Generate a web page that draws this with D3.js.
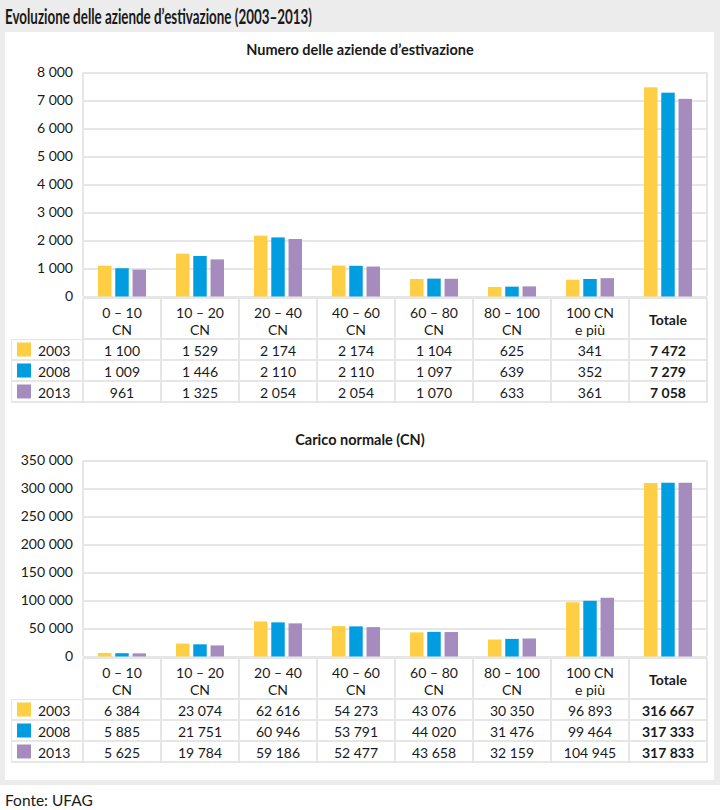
<!DOCTYPE html>
<html>
<head>
<meta charset="utf-8">
<script src="https://cdn.jsdelivr.net/npm/d3@7"></script>
<style>
  body { margin: 0; background: #fff; }
  svg { display: block; font-family: Lato, 'Open Sans', sans-serif; }
</style>
</head>
<body>
<svg id="chart" width="720" height="810"></svg>
<script>
const years = ['2003', '2008', '2013'];
const colors = ['#fecf44', '#009ee0', '#a68bbf'];

const classLine1 = ['0 – 10', '10 – 20', '20 – 40', '40 – 60', '60 – 80', '80 – 100', '100 CN', 'Totale'];
const classLine2 = ['CN', 'CN', 'CN', 'CN', 'CN', 'CN', 'e più', ''];

// Numero delle aziende: bar heights as drawn
const aziende2003 = [1100, 1529, 2174, 1104, 625, 341, 599, 7472];
const aziende2008 = [1009, 1446, 2110, 1097, 639, 352, 626, 7279];
const aziende2013 = [961, 1325, 2054, 1070, 633, 361, 654, 7058];
// Numero delle aziende: table as printed
const tabAziende2003 = [1100, 1529, 2174, 2174, 1104, 625, 341, 7472];
const tabAziende2008 = [1009, 1446, 2110, 2110, 1097, 639, 352, 7279];
const tabAziende2013 = [961, 1325, 2054, 2054, 1070, 633, 361, 7058];
const aziendeTicks = [0, 1000, 2000, 3000, 4000, 5000, 6000, 7000, 8000];

// Carico normale (CN): bar heights as drawn
const carico2003 = [6384, 23074, 62616, 54273, 43076, 30350, 96893, 309700];
const carico2008 = [5885, 21751, 60946, 53791, 44020, 31476, 99464, 310300];
const carico2013 = [5625, 19784, 59186, 52477, 43658, 32159, 104945, 310300];
// Carico normale (CN): table as printed
const tabCarico2003 = [6384, 23074, 62616, 54273, 43076, 30350, 96893, 316667];
const tabCarico2008 = [5885, 21751, 60946, 53791, 44020, 31476, 99464, 317333];
const tabCarico2013 = [5625, 19784, 59186, 52477, 43658, 32159, 104945, 317833];
const caricoTicks = [0, 50000, 100000, 150000, 200000, 250000, 300000, 350000];

const fmt = d3.formatLocale({decimal: ',', thousands: ' ', grouping: [3], currency: ['', '']}).format(',d');

const svg = d3.select('#chart');
const plotLeft = 83;
const plotRight = 707;
const gridColor = '#e6e6e6';

// Background and card
svg.append('rect').attr('width', 720).attr('height', 785).attr('fill', '#ececec');
svg.append('rect').attr('x', 5).attr('y', 32).attr('width', 709).attr('height', 748).attr('fill', '#fff');

svg.append('text')
  .attr('x', 5).attr('y', 24)
  .attr('font-size', 20.5).attr('font-weight', 700)
  .attr('fill', '#1a1a1a')
  .attr('textLength', 307).attr('lengthAdjust', 'spacingAndGlyphs')
  .text('Evoluzione delle aziende d’estivazione (2003–2013)');

svg.append('text')
  .attr('x', 5).attr('y', 806)
  .attr('font-size', 15.5).attr('fill', '#1a1a1a')
  .text('Fonte: UFAG');

const x = d3.scaleBand()
  .domain(classLine1)
  .range([plotLeft, plotRight]);

const x1 = d3.scaleBand()
  .domain(years)
  .range([15, 63])
  .paddingInner(0.22);

function drawPanel(opt) {
  const g = svg.append('g');

  g.append('text')
    .attr('x', 360).attr('y', opt.titleY)
    .attr('text-anchor', 'middle')
    .attr('dominant-baseline', 'central')
    .attr('font-size', 14.5).attr('font-weight', 700)
    .attr('fill', '#1a1a1a')
    .text(opt.title);

  const y = d3.scaleLinear()
    .domain([0, d3.max(opt.ticks)])
    .range([opt.bottom, opt.top]);

  const yAxis = d3.axisLeft(y)
    .tickValues(opt.ticks)
    .tickFormat(fmt)
    .tickSize(-(plotRight - plotLeft))
    .tickPadding(10);

  const axis = g.append('g')
    .attr('transform', `translate(${plotLeft}, 0)`)
    .call(yAxis);
  axis.select('.domain').remove();
  axis.selectAll('line').attr('stroke', gridColor).attr('stroke-width', 2);
  axis.selectAll('text')
    .attr('font-size', 14).attr('fill', '#1a1a1a')
    .style('font-family', 'Lato, sans-serif');

  // plot frame sides
  [plotLeft, plotRight].forEach(px => {
    g.append('line')
      .attr('x1', px).attr('x2', px)
      .attr('y1', opt.top).attr('y2', opt.bottom)
      .attr('stroke', gridColor).attr('stroke-width', 2);
  });

  // bars
  opt.series.forEach((values, s) => {
    g.selectAll(`.bar-${s}`)
        .data(values)
      .enter().append('rect')
        .attr('class', `bar-${s}`)
        .attr('x', (d, i) => x(classLine1[i]) + x1(years[s]))
        .attr('width', x1.bandwidth())
        .attr('y', d => y(d))
        .attr('height', d => y(0) - y(d))
        .attr('fill', colors[s]);
  });

  // table
  const tTop = opt.bottom + 1.5;
  const headH = 40;
  const rowH = 21;
  const rowsTop = tTop + headH + 1;
  const tEnd = rowsTop + rowH * 3 + 1;

  g.append('rect')
    .attr('x', plotLeft - 1).attr('y', tTop)
    .attr('width', plotRight - plotLeft + 2).attr('height', headH + 2)
    .attr('fill', gridColor);
  g.append('rect')
    .attr('x', 11).attr('y', rowsTop)
    .attr('width', plotRight - 11 + 1).attr('height', tEnd - rowsTop)
    .attr('fill', gridColor);

  // header cells
  const head = g.selectAll('.head')
      .data(classLine1)
    .enter().append('g')
      .attr('class', 'head')
      .attr('transform', d => `translate(${x(d)}, ${tTop})`);

  head.append('rect')
    .attr('x', 1).attr('y', 1)
    .attr('width', x.bandwidth() - 2).attr('height', headH - 1)
    .attr('fill', '#fff');

  head.append('text')
    .attr('x', x.bandwidth() / 2)
    .attr('y', (d, i) => classLine2[i] ? 14.5 : 21)
    .attr('text-anchor', 'middle')
    .attr('dominant-baseline', 'central')
    .attr('font-size', 14)
    .attr('font-weight', (d, i) => classLine2[i] ? 400 : 700)
    .attr('fill', '#1a1a1a')
    .text(d => d);

  head.append('text')
    .attr('x', x.bandwidth() / 2)
    .attr('y', 31)
    .attr('text-anchor', 'middle')
    .attr('dominant-baseline', 'central')
    .attr('font-size', 14)
    .attr('fill', '#1a1a1a')
    .text((d, i) => classLine2[i]);

  // data rows
  opt.table.forEach((values, r) => {
    const ry = rowsTop + 1 + r * rowH;

    g.append('rect')
      .attr('x', 12).attr('y', ry)
      .attr('width', plotLeft - 1 - 12).attr('height', rowH - 2)
      .attr('fill', '#fff');
    g.append('rect')
      .attr('x', 17).attr('y', ry + 2.5)
      .attr('width', 14).attr('height', 14)
      .attr('fill', colors[r]);
    g.append('text')
      .attr('x', 38).attr('y', ry + 10)
      .attr('dominant-baseline', 'central')
      .attr('font-size', 14).attr('fill', '#1a1a1a')
      .text(years[r]);

    g.selectAll(`.cell-${r}`)
        .data(values)
      .enter().append('rect')
        .attr('class', `cell-${r}`)
        .attr('x', (d, i) => x(classLine1[i]) + 1)
        .attr('y', ry)
        .attr('width', x.bandwidth() - 2)
        .attr('height', rowH - 2)
        .attr('fill', '#fff');

    g.selectAll(`.val-${r}`)
        .data(values)
      .enter().append('text')
        .attr('class', `val-${r}`)
        .attr('x', (d, i) => x(classLine1[i]) + x.bandwidth() / 2)
        .attr('y', ry + 10)
        .attr('text-anchor', 'middle')
        .attr('dominant-baseline', 'central')
        .attr('font-size', 14)
        .attr('font-weight', (d, i) => i === values.length - 1 ? 700 : 400)
        .attr('fill', '#1a1a1a')
        .text(d => fmt(d));
  });
}

drawPanel({
  title: 'Numero delle aziende d’estivazione',
  titleY: 49,
  top: 72.5,
  bottom: 296.5,
  ticks: aziendeTicks,
  series: [aziende2003, aziende2008, aziende2013],
  table: [tabAziende2003, tabAziende2008, tabAziende2013]
});

drawPanel({
  title: 'Carico normale (CN)',
  titleY: 439,
  top: 460.5,
  bottom: 656.5,
  ticks: caricoTicks,
  series: [carico2003, carico2008, carico2013],
  table: [tabCarico2003, tabCarico2008, tabCarico2013]
});
</script>
</body>
</html>
